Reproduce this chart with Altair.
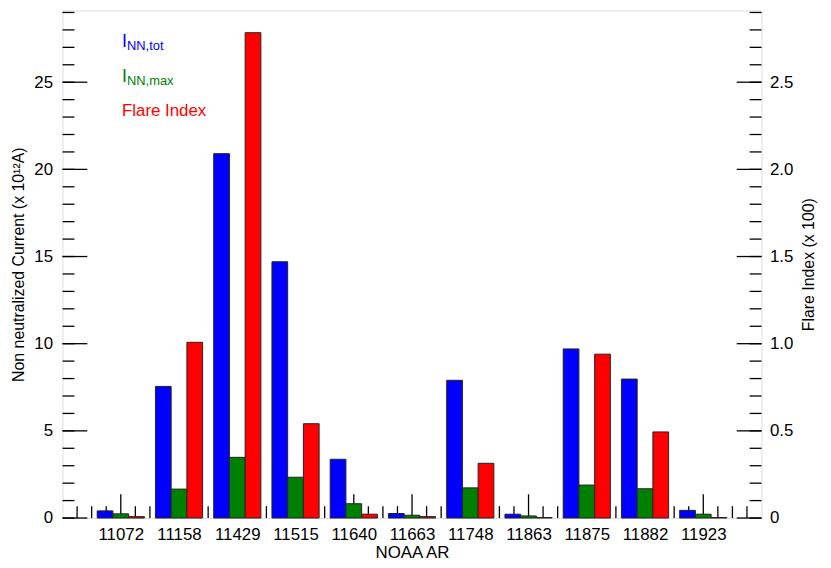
import altair as alt
import pandas as pd

# ---- data ----
ars = ["11072", "11158", "11429", "11515", "11640", "11663",
       "11748", "11863", "11875", "11882", "11923"]
i_tot = [0.41, 7.55, 20.9, 14.7, 3.37, 0.26, 7.9, 0.22, 9.7, 7.97, 0.44]
i_max = [0.24, 1.66, 3.48, 2.34, 0.82, 0.16, 1.73, 0.12, 1.89, 1.68, 0.22]
flare = [0.008, 1.008, 2.784, 0.541, 0.022, 0.008, 0.314, 0.003, 0.94, 0.494, 0.003]

left_major = [0, 5, 10, 15, 20, 25]
left_minor = list(range(0, 30))
right_major = [0.0, 0.5, 1.0, 1.5, 2.0, 2.5]
right_minor = [k / 10 for k in range(0, 30)]
x_major = list(range(1, 12))
x_minor = [k / 4 for k in range(1, 48) if k % 4 != 0]

W, H = 705, 512
FONT = "Liberation Sans"
FS = 17
YMAX = 29.12
BW = 0.27

pos = list(range(1, len(ars) + 1))
rows = []
for p, a, t, m in zip(pos, ars, i_tot, i_max):
    rows.append({"ar": a, "series": "tot", "x0": p - 1.5 * BW, "x1": p - 0.5 * BW, "v": t, "z": 0})
    rows.append({"ar": a, "series": "max", "x0": p - 0.5 * BW, "x1": p + 0.5 * BW, "v": m, "z": 0})
left_df = pd.DataFrame(rows)
red_df = pd.DataFrame({"ar": ars, "x0": [p + 0.5 * BW for p in pos],
                       "x1": [p + 1.5 * BW for p in pos], "v": flare, "z": 0})

xscale = alt.Scale(domain=[0, 12], nice=False, zero=False)
yl = alt.Scale(domain=[0, YMAX], nice=False)
yr = alt.Scale(domain=[0, YMAX / 10], nice=False)

label_js = "[" + ",".join(f"'{a}'" for a in ars) + "][datum.value - 1]"
xaxis = alt.Axis(values=x_major, labelExpr=label_js, title="NOAA AR", ticks=False,
                 tickSize=0, domain=False, grid=False, labelFontSize=FS, labelFont=FONT,
                 labelColor="black", labelPadding=9, titleFont=FONT, titleFontSize=FS,
                 titleFontWeight="normal", titleColor="black", titlePadding=2, labelFlush=False)
ylaxis = alt.Axis(values=left_major, format="d", title="Non neutralized Current (x 10¹²A)",
                  ticks=False, tickSize=0, domain=False, grid=False, labelFontSize=FS, labelFont=FONT,
                  labelColor="black", labelPadding=10, titleFont=FONT, titleFontSize=16,
                  titleFontWeight="normal", titleColor="black", titlePadding=7)
yraxis = alt.Axis(orient="right", values=right_major,
                  labelExpr="datum.value == 0 ? '0' : format(datum.value, '.1f')",
                  title="Flare Index (x 100)", titleAngle=270, titleBaseline="top",
                  ticks=False, tickSize=0, domain=False,
                  grid=False, labelFontSize=FS, labelFont=FONT, labelColor="black", labelPadding=8,
                  titleFont=FONT, titleFontSize=16, titleFontWeight="normal", titleColor="black",
                  titlePadding=8)

RULE = dict(color="black", strokeWidth=1.3)

# bottom ticks (drawn below bars)
bt_minor = alt.Chart(pd.DataFrame({"x": x_minor})).mark_rule(**RULE).encode(
    x=alt.X("x:Q", scale=xscale, axis=xaxis), y=alt.value(H - 12), y2=alt.value(H))
bt_major = alt.Chart(pd.DataFrame({"x": x_major})).mark_rule(**RULE).encode(
    x=alt.X("x:Q", scale=xscale, axis=xaxis), y=alt.value(H - 24), y2=alt.value(H))

# left ticks
lt_minor = alt.Chart(pd.DataFrame({"y": left_minor})).mark_rule(**RULE).encode(
    y=alt.Y("y:Q", scale=yl, axis=ylaxis), x=alt.value(0), x2=alt.value(12))
lt_major = alt.Chart(pd.DataFrame({"y": left_major})).mark_rule(**RULE).encode(
    y=alt.Y("y:Q", scale=yl, axis=ylaxis), x=alt.value(0), x2=alt.value(25))

bars_left = alt.Chart(left_df).mark_bar(stroke="#222222", strokeWidth=1).encode(
    x=alt.X("x0:Q", scale=xscale, axis=xaxis),
    x2="x1:Q",
    y=alt.Y("v:Q", scale=yl, axis=ylaxis),
    y2="z:Q",
    color=alt.Color("series:N", scale=alt.Scale(domain=["tot", "max"], range=["#0000ff", "#008000"]),
                    legend=None),
)

def txt(s, x, y, size, color):
    return alt.Chart(pd.DataFrame({"t": [s]})).mark_text(
        align="left", baseline="alphabetic", font=FONT, fontSize=size, color=color).encode(
        text="t:N", x=alt.value(x), y=alt.value(y))

legend = (txt("I", 60, 37, 18, "#0000ff") + txt("NN,tot", 65, 40, 13, "#0000ff") +
          txt("I", 60, 72, 18, "#008000") + txt("NN,max", 65, 75, 13, "#008000") +
          txt("Flare Index", 60, 107, 17, "#ff0000"))

left_layer = alt.layer(bt_minor, bt_major, lt_minor, lt_major, bars_left, legend)

# right side
rt_minor = alt.Chart(pd.DataFrame({"y": right_minor})).mark_rule(**RULE).encode(
    y=alt.Y("y:Q", scale=yr, axis=yraxis), x=alt.value(W - 12), x2=alt.value(W))
rt_major = alt.Chart(pd.DataFrame({"y": right_major})).mark_rule(**RULE).encode(
    y=alt.Y("y:Q", scale=yr, axis=yraxis), x=alt.value(W - 25), x2=alt.value(W))

bars_red = alt.Chart(red_df).mark_bar(color="#ff0000", stroke="#222222", strokeWidth=1).encode(
    x=alt.X("x0:Q", scale=xscale, axis=xaxis),
    x2="x1:Q",
    y=alt.Y("v:Q", scale=yr, axis=yraxis),
    y2="z:Q",
)

right_layer = alt.layer(rt_minor, rt_major, bars_red)

chart = alt.layer(left_layer, right_layer).resolve_scale(y="independent").properties(
    width=W, height=H,
    autosize=alt.AutoSizeParams(type="none"),
    padding={"left": 55, "top": 0, "right": 62, "bottom": 48},
).configure_view(stroke="black", strokeWidth=1.5).configure(background="white")

chart.save("out.html", embed_options={"renderer": "svg", "actions": False})
